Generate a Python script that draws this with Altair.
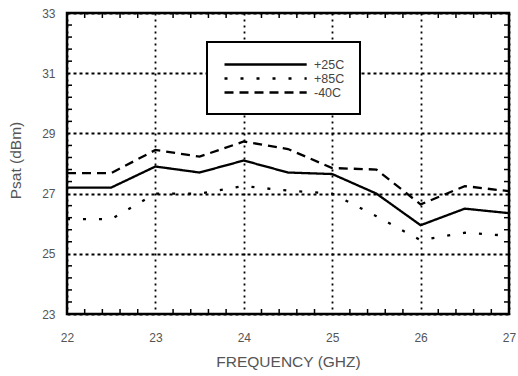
import altair as alt
import pandas as pd

freq = [22, 22.5, 23, 23.5, 24, 24.5, 25, 25.5, 26, 26.5, 27]
p_25c = [27.2, 27.2, 27.9, 27.7, 28.1, 27.7, 27.65, 27.0, 25.95, 26.5, 26.35]
p_85c = [26.15, 26.15, 27.0, 27.0, 27.25, 27.1, 27.0, 26.25, 25.45, 25.7, 25.6]
p_m40c = [27.68, 27.68, 28.45, 28.23, 28.73, 28.48, 27.85, 27.8, 26.64, 27.25, 27.08]
series_names = ["+25C", "+85C", "-40C"]

x_major = [22, 23, 24, 25, 26, 27]
y_major = [23, 25, 27, 29, 31, 33]
x_minor = [22.2, 22.4, 22.6, 22.8, 23.2, 23.4, 23.6, 23.8, 24.2, 24.4, 24.6, 24.8,
           25.2, 25.4, 25.6, 25.8, 26.2, 26.4, 26.6, 26.8]
y_minor = [23.4, 23.8, 24.2, 24.6, 25.4, 25.8, 26.2, 26.6, 27.4, 27.8, 28.2, 28.6,
           29.4, 29.8, 30.2, 30.6, 31.4, 31.8, 32.2, 32.6]

rows = []
for name, vals in zip(series_names, [p_25c, p_85c, p_m40c]):
    for f, v in zip(freq, vals):
        rows.append({"freq": f, "psat": v, "series": name})
df = pd.DataFrame(rows)

W, H = 442, 301
xscale = alt.Scale(domain=[22, 27], nice=False, zero=False)
yscale = alt.Scale(domain=[23, 33], nice=False, zero=False)
FONT = "Liberation Sans"
GRAY = "#555555"

x_axis = alt.Axis(
    values=x_major, title="FREQUENCY (GHZ)", format="d", labelFlush=False,
    grid=True, gridDash=[2, 4], gridColor="black", gridWidth=1.8,
    domain=False, ticks=False, labelFontSize=12, labelColor=GRAY,
    labelFont=FONT, labelPadding=18, titleFont=FONT, titleFontSize=15.5,
    titleFontWeight="normal", titleColor=GRAY, titleY=47, titleBaseline="middle")
y_axis = alt.Axis(
    values=y_major, title="Psat (dBm)", format="d", labelFlush=False,
    grid=True, gridDash=[3, 3], gridColor="black", gridWidth=1.9,
    domain=False, ticks=False, labelFontSize=12, labelColor=GRAY,
    labelFont=FONT, labelPadding=12, titleFont=FONT, titleFontSize=15.5,
    titleFontWeight="normal", titleColor=GRAY, titleX=-52, titleY=147,
    titleAngle=-90, titleBaseline="middle", titleAlign="center")

lines = alt.Chart(df).mark_line(strokeWidth=2.3, color="black", strokeCap="butt").encode(
    x=alt.X("freq:Q", scale=xscale, axis=x_axis),
    y=alt.Y("psat:Q", scale=yscale, axis=y_axis),
    strokeDash=alt.StrokeDash("series:N", scale=alt.Scale(
        domain=series_names, range=[[1, 0], [3, 13], [9, 6]]),
        legend=alt.Legend(
            orient="none", legendX=140, legendY=29, title=None,
            symbolType="M-1,0H12.7", symbolSize=144, symbolStrokeWidth=2.5,
            symbolStrokeColor="black", symbolOffset=1,
            labelFontSize=12.5, labelFont=FONT, labelColor="#444444",
            fillColor="white", strokeColor="black",
            padding=15, rowPadding=0, labelOffset=76)),
)

xm = pd.DataFrame({"v": x_minor})
ym = pd.DataFrame({"v": y_minor})
tick_style = dict(color="black", strokeWidth=1.5)
bottom_ticks = alt.Chart(xm).mark_rule(**tick_style).encode(
    x=alt.X("v:Q", scale=xscale, axis=x_axis), y=alt.value(H), y2=alt.value(H - 5))
top_ticks = alt.Chart(xm).mark_rule(**tick_style).encode(
    x=alt.X("v:Q", scale=xscale, axis=x_axis), y=alt.value(0), y2=alt.value(5))
left_ticks = alt.Chart(ym).mark_rule(**tick_style).encode(
    y=alt.Y("v:Q", scale=yscale, axis=y_axis), x=alt.value(0), x2=alt.value(5))
right_ticks = alt.Chart(ym).mark_rule(**tick_style).encode(
    y=alt.Y("v:Q", scale=yscale, axis=y_axis), x=alt.value(W), x2=alt.value(W - 5))

chart = alt.layer(lines, bottom_ticks, top_ticks, left_ticks, right_ticks).properties(
    width=W, height=H,
    autosize=alt.AutoSizeParams(type="none"),
    padding={"left": 67, "top": 13, "right": 9, "bottom": 62},
    background="white",
).configure_view(stroke="black", strokeWidth=2.5).configure_legend(strokeWidth=2)

chart.save("out.html", embed_options={"renderer": "svg", "actions": False})
